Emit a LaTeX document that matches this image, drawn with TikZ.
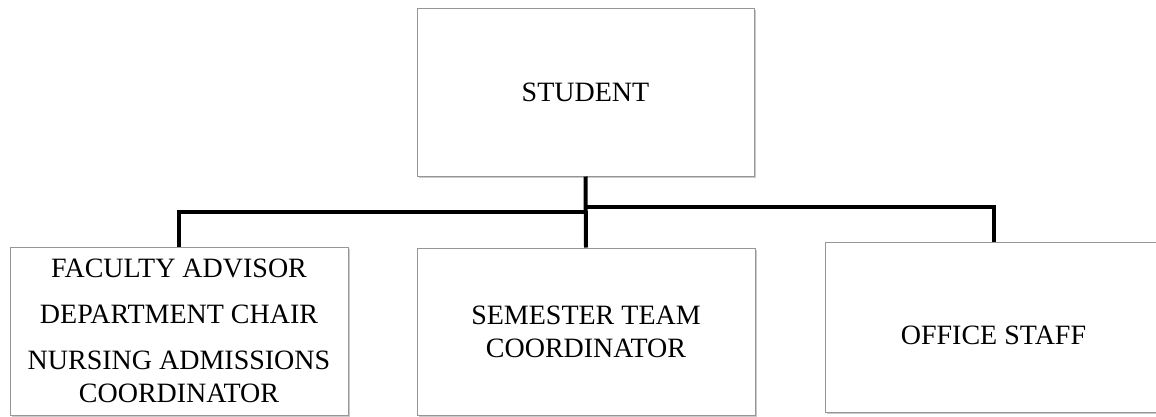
\documentclass[tikz,border=0pt]{standalone}
\usepackage{fontspec}
\setmainfont{Liberation Serif}
\usetikzlibrary{shadows}

\tikzset{
	orgbox/.style={draw={rgb, 255:red, 150; green, 150; blue, 150}, line width=1pt, fill=white,
		drop shadow={shadow xshift=2pt, shadow yshift=-2pt, opacity=0.35, fill=black!60},
		align=center, inner sep=0pt, font=\fontsize{28}{33}\selectfont},
	orgline/.style={line width=4pt, line join=miter}
}

\begin{document}
\begin{tikzpicture}[x=1pt,y=1pt,yscale=-1,xscale=1]
			\useasboundingbox (0,0) rectangle (1156,416);

			%Shape: Rectangle
			\node [orgbox, minimum width=337, minimum height=168] (student) at (585.5,92) {STUDENT};
			%Shape: Rectangle
			\node [orgbox, minimum width=338, minimum height=168] (advisor) at (179,331) {FACULTY ADVISOR\\[13pt]DEPARTMENT CHAIR\\[13pt]NURSING ADMISSIONS\\COORDINATOR};
			%Shape: Rectangle
			\node [orgbox, minimum width=338, minimum height=167] (team) at (586,331.5) {SEMESTER TEAM\\COORDINATOR};
			%Shape: Rectangle
			\node [orgbox, minimum width=337, minimum height=170, text height=35pt, text depth=0pt] (office) at (993.5,327) {OFFICE STAFF};

			%Straight Lines
			\coordinate (leftjoin) at (586,212);
			\coordinate (rightjoin) at (586,207);
			\draw [orgline] (student.south) -- (team.north) ;
			\draw [orgline] (leftjoin) -| (advisor.north) ;
			\draw [orgline] (rightjoin) -| (office.north) ;

		\end{tikzpicture}
\end{document}
